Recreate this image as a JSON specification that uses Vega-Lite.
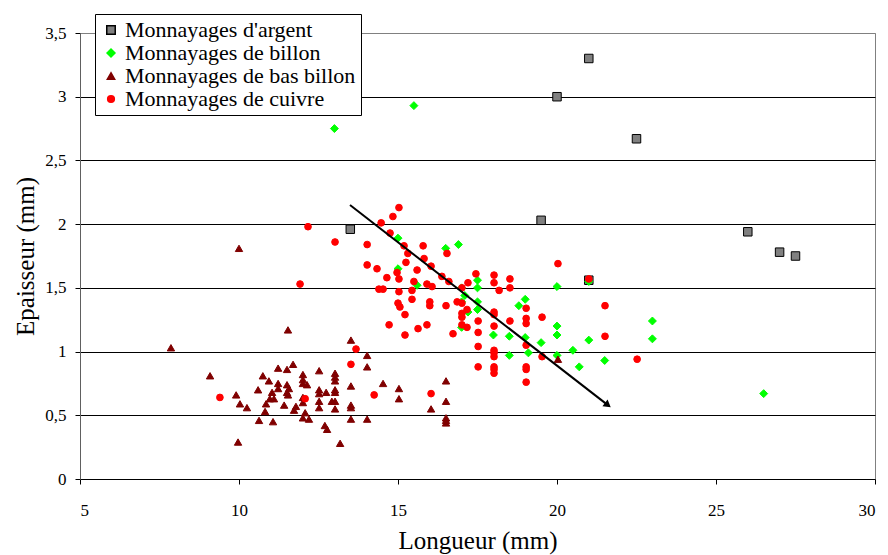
{
  "$schema": "https://vega.github.io/schema/vega-lite/v6.json",
  "width": 795,
  "height": 446,
  "autosize": {"type": "none"},
  "padding": {"left": 80, "top": 33, "right": 13, "bottom": 76},
  "background": "white",
  "config": {
    "view": {"stroke": "#808080", "strokeWidth": 1},
    "font": "Liberation Serif",
    "axis": {"labelFont": "Liberation Serif", "titleFont": "Liberation Serif", "titleColor": "black", "titleFontWeight": "normal", "titleFontSize": 25, "tickColor": "black", "domainColor": "black", "labelColor": "black", "labelFontSize": 17},
    "legend": {"labelFont": "Liberation Serif", "labelFontSize": 22, "labelColor": "black"}
  },
  "datasets": {
    "pts": [
      {"serie": "Monnayages d'argent", "x": 13.5, "y": 1.96},
      {"serie": "Monnayages d'argent", "x": 19.5, "y": 2.03},
      {"serie": "Monnayages d'argent", "x": 20, "y": 3.0},
      {"serie": "Monnayages d'argent", "x": 21, "y": 3.3},
      {"serie": "Monnayages d'argent", "x": 21, "y": 1.56},
      {"serie": "Monnayages d'argent", "x": 22.5, "y": 2.67},
      {"serie": "Monnayages d'argent", "x": 26, "y": 1.94},
      {"serie": "Monnayages d'argent", "x": 27, "y": 1.78},
      {"serie": "Monnayages d'argent", "x": 27.5, "y": 1.75},

      {"serie": "Monnayages de billon", "x": 13, "y": 2.75},
      {"serie": "Monnayages de billon", "x": 15.5, "y": 2.93},
      {"serie": "Monnayages de billon", "x": 15, "y": 1.89},
      {"serie": "Monnayages de billon", "x": 15, "y": 1.65},
      {"serie": "Monnayages de billon", "x": 15.6, "y": 1.52},
      {"serie": "Monnayages de billon", "x": 16.5, "y": 1.81},
      {"serie": "Monnayages de billon", "x": 16.9, "y": 1.84},
      {"serie": "Monnayages de billon", "x": 17, "y": 1.5},
      {"serie": "Monnayages de billon", "x": 17.5, "y": 1.56},
      {"serie": "Monnayages de billon", "x": 17.5, "y": 1.5},
      {"serie": "Monnayages de billon", "x": 17.1, "y": 1.44},
      {"serie": "Monnayages de billon", "x": 17, "y": 1.39},
      {"serie": "Monnayages de billon", "x": 17.5, "y": 1.39},
      {"serie": "Monnayages de billon", "x": 17.5, "y": 1.33},
      {"serie": "Monnayages de billon", "x": 17.2, "y": 1.31},
      {"serie": "Monnayages de billon", "x": 17, "y": 1.19},
      {"serie": "Monnayages de billon", "x": 19, "y": 1.41},
      {"serie": "Monnayages de billon", "x": 18.8, "y": 1.36},
      {"serie": "Monnayages de billon", "x": 20, "y": 1.51},
      {"serie": "Monnayages de billon", "x": 21, "y": 1.55},
      {"serie": "Monnayages de billon", "x": 20, "y": 1.2},
      {"serie": "Monnayages de billon", "x": 20, "y": 1.13},
      {"serie": "Monnayages de billon", "x": 21, "y": 1.09},
      {"serie": "Monnayages de billon", "x": 19.5, "y": 1.07},
      {"serie": "Monnayages de billon", "x": 19, "y": 1.11},
      {"serie": "Monnayages de billon", "x": 18.5, "y": 1.12},
      {"serie": "Monnayages de billon", "x": 18, "y": 1.13},
      {"serie": "Monnayages de billon", "x": 20.5, "y": 1.01},
      {"serie": "Monnayages de billon", "x": 19.1, "y": 0.99},
      {"serie": "Monnayages de billon", "x": 18.5, "y": 0.97},
      {"serie": "Monnayages de billon", "x": 20, "y": 0.97},
      {"serie": "Monnayages de billon", "x": 20.7, "y": 0.88},
      {"serie": "Monnayages de billon", "x": 21.5, "y": 0.93},
      {"serie": "Monnayages de billon", "x": 23, "y": 1.24},
      {"serie": "Monnayages de billon", "x": 23, "y": 1.1},
      {"serie": "Monnayages de billon", "x": 26.5, "y": 0.67},

      {"serie": "Monnayages de bas billon", "x": 7.86, "y": 1.03},
      {"serie": "Monnayages de bas billon", "x": 9.09, "y": 0.81},
      {"serie": "Monnayages de bas billon", "x": 10, "y": 1.81},
      {"serie": "Monnayages de bas billon", "x": 9.97, "y": 0.29},
      {"serie": "Monnayages de bas billon", "x": 9.91, "y": 0.66},
      {"serie": "Monnayages de bas billon", "x": 10.03, "y": 0.59},
      {"serie": "Monnayages de bas billon", "x": 10.25, "y": 0.56},
      {"serie": "Monnayages de bas billon", "x": 10.63, "y": 0.46},
      {"serie": "Monnayages de bas billon", "x": 10.75, "y": 0.81},
      {"serie": "Monnayages de bas billon", "x": 10.94, "y": 0.77},
      {"serie": "Monnayages de bas billon", "x": 11.23, "y": 0.87},
      {"serie": "Monnayages de bas billon", "x": 11.23, "y": 0.75},
      {"serie": "Monnayages de bas billon", "x": 11.23, "y": 0.71},
      {"serie": "Monnayages de bas billon", "x": 10.6, "y": 0.7},
      {"serie": "Monnayages de bas billon", "x": 11.04, "y": 0.68},
      {"serie": "Monnayages de bas billon", "x": 10.97, "y": 0.63},
      {"serie": "Monnayages de bas billon", "x": 11.1, "y": 0.63},
      {"serie": "Monnayages de bas billon", "x": 10.85, "y": 0.59},
      {"serie": "Monnayages de bas billon", "x": 10.82, "y": 0.53},
      {"serie": "Monnayages de bas billon", "x": 11.07, "y": 0.45},
      {"serie": "Monnayages de bas billon", "x": 11.42, "y": 0.58},
      {"serie": "Monnayages de bas billon", "x": 11.51, "y": 0.86},
      {"serie": "Monnayages de bas billon", "x": 11.7, "y": 0.9},
      {"serie": "Monnayages de bas billon", "x": 11.51, "y": 0.74},
      {"serie": "Monnayages de bas billon", "x": 11.57, "y": 0.71},
      {"serie": "Monnayages de bas billon", "x": 11.51, "y": 0.68},
      {"serie": "Monnayages de bas billon", "x": 11.54, "y": 0.66},
      {"serie": "Monnayages de bas billon", "x": 11.54, "y": 1.17},
      {"serie": "Monnayages de bas billon", "x": 11.79, "y": 0.57},
      {"serie": "Monnayages de bas billon", "x": 11.73, "y": 0.54},
      {"serie": "Monnayages de bas billon", "x": 12.01, "y": 0.82},
      {"serie": "Monnayages de bas billon", "x": 12.01, "y": 0.78},
      {"serie": "Monnayages de bas billon", "x": 12.01, "y": 0.75},
      {"serie": "Monnayages de bas billon", "x": 12.14, "y": 0.74},
      {"serie": "Monnayages de bas billon", "x": 12.01, "y": 0.64},
      {"serie": "Monnayages de bas billon", "x": 12.01, "y": 0.6},
      {"serie": "Monnayages de bas billon", "x": 12.08, "y": 0.52},
      {"serie": "Monnayages de bas billon", "x": 12.01, "y": 0.48},
      {"serie": "Monnayages de bas billon", "x": 12.2, "y": 0.47},
      {"serie": "Monnayages de bas billon", "x": 12.52, "y": 0.85},
      {"serie": "Monnayages de bas billon", "x": 12.52, "y": 0.7},
      {"serie": "Monnayages de bas billon", "x": 12.52, "y": 0.67},
      {"serie": "Monnayages de bas billon", "x": 12.74, "y": 0.68},
      {"serie": "Monnayages de bas billon", "x": 12.52, "y": 0.61},
      {"serie": "Monnayages de bas billon", "x": 12.52, "y": 0.56},
      {"serie": "Monnayages de bas billon", "x": 12.7, "y": 0.42},
      {"serie": "Monnayages de bas billon", "x": 12.77, "y": 0.39},
      {"serie": "Monnayages de bas billon", "x": 13.02, "y": 0.83},
      {"serie": "Monnayages de bas billon", "x": 13.02, "y": 0.8},
      {"serie": "Monnayages de bas billon", "x": 13.02, "y": 0.77},
      {"serie": "Monnayages de bas billon", "x": 13.02, "y": 0.7},
      {"serie": "Monnayages de bas billon", "x": 13.02, "y": 0.68},
      {"serie": "Monnayages de bas billon", "x": 12.92, "y": 0.61},
      {"serie": "Monnayages de bas billon", "x": 13.02, "y": 0.61},
      {"serie": "Monnayages de bas billon", "x": 13.02, "y": 0.55},
      {"serie": "Monnayages de bas billon", "x": 13.18, "y": 0.28},
      {"serie": "Monnayages de bas billon", "x": 13.52, "y": 1.09},
      {"serie": "Monnayages de bas billon", "x": 13.52, "y": 0.73},
      {"serie": "Monnayages de bas billon", "x": 13.52, "y": 0.58},
      {"serie": "Monnayages de bas billon", "x": 13.52, "y": 0.56},
      {"serie": "Monnayages de bas billon", "x": 13.52, "y": 0.47},
      {"serie": "Monnayages de bas billon", "x": 14.03, "y": 0.97},
      {"serie": "Monnayages de bas billon", "x": 14.03, "y": 0.88},
      {"serie": "Monnayages de bas billon", "x": 14.03, "y": 0.47},
      {"serie": "Monnayages de bas billon", "x": 14.53, "y": 0.75},
      {"serie": "Monnayages de bas billon", "x": 15.03, "y": 0.71},
      {"serie": "Monnayages de bas billon", "x": 15.03, "y": 0.63},
      {"serie": "Monnayages de bas billon", "x": 16.04, "y": 0.55},
      {"serie": "Monnayages de bas billon", "x": 16.51, "y": 0.77},
      {"serie": "Monnayages de bas billon", "x": 16.51, "y": 0.61},
      {"serie": "Monnayages de bas billon", "x": 16.51, "y": 0.48},
      {"serie": "Monnayages de bas billon", "x": 16.51, "y": 0.46},
      {"serie": "Monnayages de bas billon", "x": 16.51, "y": 0.44},
      {"serie": "Monnayages de bas billon", "x": 20.03, "y": 0.94},

      {"serie": "Monnayages de cuivre", "x": 15.03, "y": 2.13},
      {"serie": "Monnayages de cuivre", "x": 14.84, "y": 2.06},
      {"serie": "Monnayages de cuivre", "x": 14.47, "y": 2.01},
      {"serie": "Monnayages de cuivre", "x": 12.17, "y": 1.98},
      {"serie": "Monnayages de cuivre", "x": 13.02, "y": 1.86},
      {"serie": "Monnayages de cuivre", "x": 14.03, "y": 1.84},
      {"serie": "Monnayages de cuivre", "x": 14.75, "y": 1.93},
      {"serie": "Monnayages de cuivre", "x": 15.19, "y": 1.83},
      {"serie": "Monnayages de cuivre", "x": 15.79, "y": 1.83},
      {"serie": "Monnayages de cuivre", "x": 15.31, "y": 1.77},
      {"serie": "Monnayages de cuivre", "x": 15.82, "y": 1.73},
      {"serie": "Monnayages de cuivre", "x": 15.25, "y": 1.7},
      {"serie": "Monnayages de cuivre", "x": 14.03, "y": 1.68},
      {"serie": "Monnayages de cuivre", "x": 14.34, "y": 1.65},
      {"serie": "Monnayages de cuivre", "x": 14.97, "y": 1.62},
      {"serie": "Monnayages de cuivre", "x": 15.6, "y": 1.64},
      {"serie": "Monnayages de cuivre", "x": 16.04, "y": 1.67},
      {"serie": "Monnayages de cuivre", "x": 16.54, "y": 1.77},
      {"serie": "Monnayages de cuivre", "x": 14.65, "y": 1.58},
      {"serie": "Monnayages de cuivre", "x": 15.03, "y": 1.57},
      {"serie": "Monnayages de cuivre", "x": 15.5, "y": 1.55},
      {"serie": "Monnayages de cuivre", "x": 15.91, "y": 1.53},
      {"serie": "Monnayages de cuivre", "x": 16.07, "y": 1.51},
      {"serie": "Monnayages de cuivre", "x": 16.38, "y": 1.59},
      {"serie": "Monnayages de cuivre", "x": 16.6, "y": 1.55},
      {"serie": "Monnayages de cuivre", "x": 17.45, "y": 1.61},
      {"serie": "Monnayages de cuivre", "x": 17.2, "y": 1.54},
      {"serie": "Monnayages de cuivre", "x": 17.01, "y": 1.5},
      {"serie": "Monnayages de cuivre", "x": 14.4, "y": 1.49},
      {"serie": "Monnayages de cuivre", "x": 14.53, "y": 1.49},
      {"serie": "Monnayages de cuivre", "x": 15.44, "y": 1.48},
      {"serie": "Monnayages de cuivre", "x": 11.92, "y": 1.53},
      {"serie": "Monnayages de cuivre", "x": 15.03, "y": 1.47},
      {"serie": "Monnayages de cuivre", "x": 18.02, "y": 1.6},
      {"serie": "Monnayages de cuivre", "x": 18.02, "y": 1.54},
      {"serie": "Monnayages de cuivre", "x": 18.52, "y": 1.57},
      {"serie": "Monnayages de cuivre", "x": 18.52, "y": 1.5},
      {"serie": "Monnayages de cuivre", "x": 18.18, "y": 1.48},
      {"serie": "Monnayages de cuivre", "x": 20.03, "y": 1.69},
      {"serie": "Monnayages de cuivre", "x": 21, "y": 1.57},
      {"serie": "Monnayages de cuivre", "x": 15.44, "y": 1.41},
      {"serie": "Monnayages de cuivre", "x": 15, "y": 1.38},
      {"serie": "Monnayages de cuivre", "x": 15.06, "y": 1.35},
      {"serie": "Monnayages de cuivre", "x": 15.22, "y": 1.29},
      {"serie": "Monnayages de cuivre", "x": 14.72, "y": 1.21},
      {"serie": "Monnayages de cuivre", "x": 15.63, "y": 1.18},
      {"serie": "Monnayages de cuivre", "x": 15.91, "y": 1.21},
      {"serie": "Monnayages de cuivre", "x": 15.22, "y": 1.13},
      {"serie": "Monnayages de cuivre", "x": 16, "y": 1.39},
      {"serie": "Monnayages de cuivre", "x": 16, "y": 1.36},
      {"serie": "Monnayages de cuivre", "x": 16.51, "y": 1.36},
      {"serie": "Monnayages de cuivre", "x": 16.86, "y": 1.39},
      {"serie": "Monnayages de cuivre", "x": 17.01, "y": 1.38},
      {"serie": "Monnayages de cuivre", "x": 17.01, "y": 1.3},
      {"serie": "Monnayages de cuivre", "x": 17.01, "y": 1.27},
      {"serie": "Monnayages de cuivre", "x": 17.17, "y": 1.33},
      {"serie": "Monnayages de cuivre", "x": 17.01, "y": 1.21},
      {"serie": "Monnayages de cuivre", "x": 17.17, "y": 1.19},
      {"serie": "Monnayages de cuivre", "x": 16.73, "y": 1.14},
      {"serie": "Monnayages de cuivre", "x": 17.52, "y": 1.24},
      {"serie": "Monnayages de cuivre", "x": 17.52, "y": 1.15},
      {"serie": "Monnayages de cuivre", "x": 17.52, "y": 1.04},
      {"serie": "Monnayages de cuivre", "x": 17.52, "y": 0.88},
      {"serie": "Monnayages de cuivre", "x": 18.02, "y": 1.31},
      {"serie": "Monnayages de cuivre", "x": 18.02, "y": 1.29},
      {"serie": "Monnayages de cuivre", "x": 18.02, "y": 1.2},
      {"serie": "Monnayages de cuivre", "x": 18.02, "y": 1.01},
      {"serie": "Monnayages de cuivre", "x": 18.02, "y": 0.99},
      {"serie": "Monnayages de cuivre", "x": 18.02, "y": 0.96},
      {"serie": "Monnayages de cuivre", "x": 18.02, "y": 0.88},
      {"serie": "Monnayages de cuivre", "x": 18.02, "y": 0.86},
      {"serie": "Monnayages de cuivre", "x": 18.02, "y": 0.83},
      {"serie": "Monnayages de cuivre", "x": 18.52, "y": 1.24},
      {"serie": "Monnayages de cuivre", "x": 19.03, "y": 1.34},
      {"serie": "Monnayages de cuivre", "x": 19.03, "y": 1.26},
      {"serie": "Monnayages de cuivre", "x": 19.03, "y": 1.22},
      {"serie": "Monnayages de cuivre", "x": 19.53, "y": 1.27},
      {"serie": "Monnayages de cuivre", "x": 21.51, "y": 1.36},
      {"serie": "Monnayages de cuivre", "x": 21.51, "y": 1.12},
      {"serie": "Monnayages de cuivre", "x": 19.03, "y": 1.05},
      {"serie": "Monnayages de cuivre", "x": 19.53, "y": 0.96},
      {"serie": "Monnayages de cuivre", "x": 22.52, "y": 0.94},
      {"serie": "Monnayages de cuivre", "x": 19.03, "y": 0.88},
      {"serie": "Monnayages de cuivre", "x": 19.03, "y": 0.86},
      {"serie": "Monnayages de cuivre", "x": 19.03, "y": 0.76},
      {"serie": "Monnayages de cuivre", "x": 13.68, "y": 1.02},
      {"serie": "Monnayages de cuivre", "x": 13.52, "y": 0.9},
      {"serie": "Monnayages de cuivre", "x": 9.4, "y": 0.64},
      {"serie": "Monnayages de cuivre", "x": 12.08, "y": 0.63},
      {"serie": "Monnayages de cuivre", "x": 14.25, "y": 0.66},
      {"serie": "Monnayages de cuivre", "x": 16.04, "y": 0.67}
    ],
    "fleche": [
      {"x": 13.49, "y": 2.15, "x2": 21.6, "y2": 0.58}
    ]
  },
  "layer": [
    {
      "data": {"name": "pts"},
      "mark": {"type": "point", "filled": true, "opacity": 1, "strokeWidth": 1},
      "encoding": {
        "x": {"field": "x", "type": "quantitative", "scale": {"domain": [5, 30], "nice": false, "zero": false},
          "axis": {"title": "Longueur (mm)", "values": [5, 10, 15, 20, 25, 30], "grid": false, "tickSize": 5, "labelPadding": 18, "titlePadding": 10, "domainColor": "black", "labelFont": "Liberation Serif", "labelFontSize": 17, "labelColor": "black"}},
        "y": {"field": "y", "type": "quantitative", "scale": {"domain": [0, 3.5], "nice": false},
          "axis": {"title": "Epaisseur (mm)", "values": [0, 0.5, 1, 1.5, 2, 2.5, 3, 3.5], "grid": true,
            "gridColor": {"condition": {"test": "datum.value == 3.5 || datum.value == 0", "value": "#808080"}, "value": "black"},
            "gridOpacity": 1, "gridWidth": 1, "tickSize": 5, "labelPadding": 9, "titlePadding": 6,
            "labelFont": "Liberation Serif", "labelFontSize": 17, "labelColor": "black",
            "labelExpr": "replace(toString(datum.value), '.', ',')", "domainColor": "#606060"}},
        "shape": {"field": "serie", "type": "nominal",
          "scale": {"domain": ["Monnayages d'argent", "Monnayages de billon", "Monnayages de bas billon", "Monnayages de cuivre"], "range": ["square", "diamond", "triangle-up", "circle"]},
          "legend": {"title": null, "orient": "none", "legendX": 15, "legendY": -19, "fillColor": "white", "strokeColor": "black", "padding": 5, "rowPadding": 1, "labelOffset": 3, "labelLimit": 400, "labelFont": "Liberation Serif", "labelFontSize": 22}},
        "fill": {"field": "serie", "type": "nominal",
          "scale": {"domain": ["Monnayages d'argent", "Monnayages de billon", "Monnayages de bas billon", "Monnayages de cuivre"], "range": ["#808080", "#00ff00", "#800000", "#ff0000"]},
          "legend": {"title": null, "orient": "none", "legendX": 15, "legendY": -19}},
        "stroke": {"field": "serie", "type": "nominal",
          "scale": {"domain": ["Monnayages d'argent", "Monnayages de billon", "Monnayages de bas billon", "Monnayages de cuivre"], "range": ["#000000", "#00ff00", "#800000", "#ff0000"]},
          "legend": {"title": null, "orient": "none", "legendX": 15, "legendY": -19}},
        "size": {"field": "serie", "type": "nominal",
          "scale": {"domain": ["Monnayages d'argent", "Monnayages de billon", "Monnayages de bas billon", "Monnayages de cuivre"], "range": [72, 45, 30, 50]},
          "legend": {"title": null, "orient": "none", "legendX": 15, "legendY": -19}}
      }
    },
    {
      "data": {"name": "fleche"},
      "mark": {"type": "rule", "color": "black", "strokeWidth": 2},
      "encoding": {
        "x": {"field": "x", "type": "quantitative"},
        "y": {"field": "y", "type": "quantitative"},
        "x2": {"field": "x2"},
        "y2": {"field": "y2"}
      }
    },
    {
      "data": {"name": "fleche"},
      "mark": {"type": "point", "shape": "triangle-right", "filled": true, "color": "black", "size": 70, "angle": 38, "opacity": 1},
      "encoding": {
        "x": {"field": "x2", "type": "quantitative"},
        "y": {"field": "y2", "type": "quantitative"}
      }
    }
  ]
}
